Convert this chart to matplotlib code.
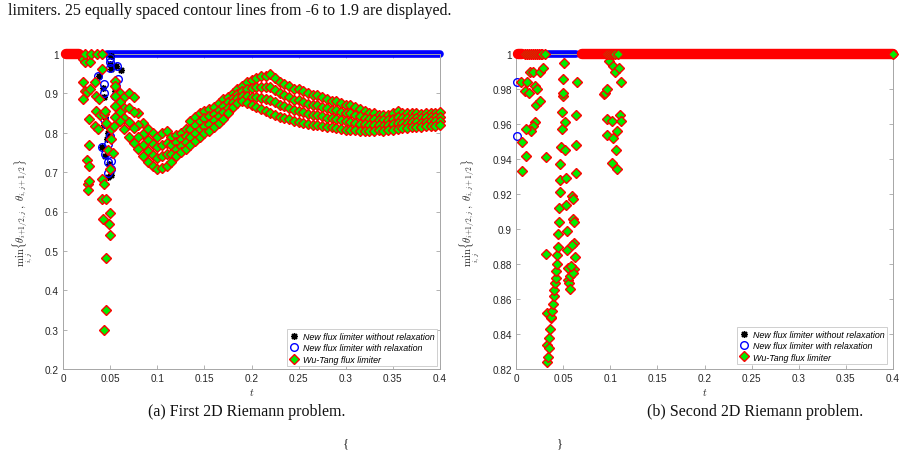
import matplotlib
matplotlib.use("Agg")
import matplotlib.pyplot as plt

plt.rcParams['mathtext.fontset'] = 'cm'
plt.rcParams['font.family'] = ['Liberation Sans', 'DejaVu Sans']

AT_ONE = 1.0

# ---------------- Panel (a): first 2D Riemann problem ----------------
a_wt_t = [0.021, 0.023, 0.029, 0.021, 0.023, 0.021, 0.025, 0.029, 0.035, 0.038,
          0.034, 0.028, 0.035, 0.034, 0.037, 0.039, 0.043, 0.045, 0.028, 0.025,
          0.028, 0.027, 0.027, 0.028, 0.041, 0.043, 0.041, 0.046, 0.042, 0.050,
          0.049, 0.050, 0.046, 0.046, 0.043, 0.041, 0.055, 0.046, 0.051, 0.048,
          0.053, 0.050, 0.051, 0.054]
a_wt_v = [0.987, 0.979, 0.979, 0.928, 0.907, 0.886, 0.903, 0.911, 0.894, 0.886,
          0.928, 0.834, 0.856, 0.818, 0.810, 0.844, 0.848, 0.856, 0.768, 0.732,
          0.715, 0.671, 0.655, 0.677, 0.683, 0.671, 0.633, 0.633, 0.582, 0.597,
          0.569, 0.541, 0.482, 0.350, 0.299, 0.962, 0.932, 0.826, 0.810, 0.755,
          0.749, 0.709, 0.785, 0.818]
a_band_t = [0.055, 0.060, 0.065, 0.070, 0.075, 0.080, 0.085, 0.090, 0.095, 0.100,
            0.105, 0.110, 0.115, 0.120, 0.125, 0.130, 0.135, 0.140, 0.145, 0.150,
            0.155, 0.160, 0.165, 0.170, 0.175, 0.180, 0.185, 0.190, 0.195, 0.200,
            0.205, 0.210, 0.215, 0.220, 0.225, 0.230, 0.235, 0.240, 0.245, 0.250,
            0.255, 0.260, 0.265, 0.270, 0.275, 0.280, 0.285, 0.290, 0.295, 0.300,
            0.305, 0.310, 0.315, 0.320, 0.325, 0.330, 0.335, 0.340, 0.345, 0.350,
            0.355, 0.360, 0.365, 0.370, 0.375, 0.380, 0.385, 0.390, 0.395, 0.400]
a_band_upper = [0.920, 0.900, 0.890, 0.900, 0.890, 0.850, 0.825, 0.810, 0.800, 0.790,
                0.800, 0.805, 0.790, 0.795, 0.800, 0.810, 0.830, 0.840, 0.850, 0.855,
                0.860, 0.865, 0.875, 0.885, 0.890, 0.900, 0.910, 0.920, 0.930, 0.935,
                0.940, 0.945, 0.945, 0.950, 0.940, 0.930, 0.925, 0.920, 0.910, 0.910,
                0.905, 0.900, 0.895, 0.895, 0.890, 0.885, 0.880, 0.880, 0.875, 0.870,
                0.870, 0.865, 0.860, 0.855, 0.850, 0.850, 0.845, 0.845, 0.845, 0.850,
                0.855, 0.850, 0.850, 0.850, 0.850, 0.848, 0.850, 0.850, 0.850, 0.852]
a_band_upper_mid = [0.893, 0.877, 0.863, 0.863, 0.852, 0.820, 0.797, 0.782, 0.772, 0.763,
                    0.770, 0.775, 0.768, 0.777, 0.783, 0.793, 0.810, 0.820, 0.830, 0.837,
                    0.842, 0.848, 0.858, 0.868, 0.877, 0.888, 0.898, 0.907, 0.912, 0.913,
                    0.915, 0.917, 0.915, 0.917, 0.908, 0.900, 0.896, 0.892, 0.883, 0.883,
                    0.878, 0.874, 0.870, 0.870, 0.866, 0.862, 0.858, 0.857, 0.853, 0.849,
                    0.849, 0.845, 0.842, 0.838, 0.835, 0.835, 0.832, 0.832, 0.832, 0.836,
                    0.840, 0.837, 0.837, 0.838, 0.838, 0.837, 0.839, 0.839, 0.839, 0.841]
a_band_lower_mid = [0.867, 0.853, 0.837, 0.827, 0.813, 0.790, 0.768, 0.753, 0.743, 0.735,
                    0.740, 0.745, 0.747, 0.758, 0.767, 0.777, 0.790, 0.800, 0.810, 0.818,
                    0.823, 0.832, 0.842, 0.852, 0.863, 0.877, 0.887, 0.893, 0.893, 0.892,
                    0.890, 0.888, 0.885, 0.883, 0.877, 0.870, 0.867, 0.863, 0.857, 0.855,
                    0.852, 0.848, 0.845, 0.845, 0.842, 0.838, 0.837, 0.835, 0.832, 0.829,
                    0.827, 0.826, 0.823, 0.822, 0.819, 0.820, 0.819, 0.818, 0.819, 0.822,
                    0.825, 0.825, 0.825, 0.827, 0.827, 0.826, 0.827, 0.829, 0.829, 0.831]
a_band_lower = [0.840, 0.830, 0.810, 0.790, 0.775, 0.760, 0.740, 0.725, 0.715, 0.708,
                0.710, 0.715, 0.725, 0.740, 0.750, 0.760, 0.770, 0.780, 0.790, 0.800,
                0.805, 0.815, 0.825, 0.835, 0.850, 0.865, 0.875, 0.880, 0.875, 0.870,
                0.865, 0.860, 0.855, 0.850, 0.845, 0.840, 0.838, 0.835, 0.830, 0.828,
                0.825, 0.822, 0.820, 0.820, 0.818, 0.815, 0.815, 0.812, 0.810, 0.808,
                0.806, 0.806, 0.805, 0.805, 0.804, 0.805, 0.806, 0.805, 0.806, 0.808,
                0.810, 0.812, 0.812, 0.815, 0.815, 0.815, 0.816, 0.818, 0.818, 0.820]
a_wt_one_t = [0.023, 0.030, 0.036, 0.041]
a_wt_one_spans = [(0.003, 0.017)]
a_nr_t = [0.038, 0.042, 0.043, 0.050, 0.051, 0.056, 0.062, 0.055, 0.041, 0.045,
          0.050, 0.047, 0.045, 0.049, 0.048, 0.051, 0.051, 0.044, 0.048]
a_nr_v = [0.945, 0.913, 0.890, 0.975, 0.962, 0.970, 0.960, 0.907, 0.763, 0.839,
          0.789, 0.785, 0.742, 0.721, 0.687, 0.692, 0.996, 0.820, 0.800]
a_wr_t = [0.037, 0.043, 0.044, 0.050, 0.050, 0.057, 0.056, 0.058, 0.043, 0.046,
          0.050, 0.048, 0.041, 0.045, 0.048, 0.051, 0.048, 0.051, 0.055, 0.050]
a_wr_v = [0.945, 0.924, 0.901, 0.979, 0.964, 0.970, 0.920, 0.937, 0.835, 0.823,
          0.793, 0.772, 0.763, 0.747, 0.725, 0.728, 0.699, 0.709, 0.894, 0.989]
a_wr_one_spans = [(0.047, 0.4)]

# ---------------- Panel (b): second 2D Riemann problem ----------------
b_wt_t = [0.005, 0.012, 0.010, 0.014, 0.015, 0.018, 0.020, 0.022, 0.025, 0.029,
          0.021, 0.025, 0.020, 0.018, 0.016, 0.011, 0.006, 0.011, 0.006, 0.032,
          0.032, 0.033, 0.033, 0.033, 0.034, 0.035, 0.035, 0.036, 0.037, 0.0375,
          0.038, 0.039, 0.040, 0.040, 0.041, 0.042, 0.042, 0.043, 0.044, 0.045,
          0.045, 0.046, 0.046, 0.047, 0.047, 0.047, 0.048, 0.049, 0.049, 0.050,
          0.050, 0.050, 0.051, 0.052, 0.052, 0.053, 0.053, 0.054, 0.054, 0.055,
          0.055, 0.056, 0.057, 0.057, 0.059, 0.060, 0.061, 0.062, 0.062, 0.063,
          0.062, 0.061, 0.059, 0.058, 0.064, 0.064, 0.064, 0.065,
          0.093, 0.094, 0.097, 0.099, 0.103, 0.105, 0.109, 0.111, 0.097, 0.102,
          0.110, 0.111, 0.107, 0.097, 0.103, 0.106, 0.102, 0.107]
b_wt_v = [0.984, 0.984, 0.979, 0.978, 0.990, 0.990, 0.982, 0.980, 0.990, 0.992,
          0.971, 0.973, 0.961, 0.959, 0.956, 0.957, 0.950, 0.942, 0.933, 0.941,
          0.886, 0.852, 0.834, 0.824, 0.827, 0.832, 0.838, 0.843, 0.849, 0.850,
          0.853, 0.857, 0.862, 0.865, 0.869, 0.872, 0.876, 0.880, 0.885, 0.890,
          0.897, 0.904, 0.912, 0.921, 0.928, 0.937, 0.947, 0.957, 0.967, 0.976,
          0.978, 0.986, 0.995, 0.945, 0.961, 0.929, 0.914, 0.899, 0.888, 0.878,
          0.871, 0.869, 0.866, 0.873, 0.919, 0.906, 0.917, 0.904, 0.892, 0.884,
          0.877, 0.875, 0.891, 0.879, 0.932, 0.948, 0.965, 0.984,
          0.977, 0.978, 0.980, 0.996, 0.993, 0.990, 0.992, 0.984, 0.963, 0.962,
          0.965, 0.962, 0.956, 0.954, 0.952, 0.945, 0.938, 0.934]
b_wt_one_t = [0.010, 0.012, 0.014, 0.016, 0.018, 0.020, 0.022, 0.024, 0.026, 0.028,
              0.031, 0.097, 0.099, 0.101, 0.103, 0.105, 0.108, 0.400]
b_wt_one_spans = [(0.002, 0.006), (0.070, 0.4)]
b_nr_t = []
b_nr_v = []
b_wr_t = [0.001, 0.001]
b_wr_v = [0.984, 0.953]
b_wr_one_spans = [(0.034, 0.064)]

x_ticks = [0, 0.05, 0.1, 0.15, 0.2, 0.25, 0.3, 0.35, 0.4]
x_ticklabels = ['0', '0.05', '0.1', '0.15', '0.2', '0.25', '0.3', '0.35', '0.4']
a_y_ticks = [0.2, 0.3, 0.4, 0.5, 0.6, 0.7, 0.8, 0.9, 1.0]
a_y_ticklabels = ['0.2', '0.3', '0.4', '0.5', '0.6', '0.7', '0.8', '0.9', '1']
b_y_ticks = [0.82, 0.84, 0.86, 0.88, 0.9, 0.92, 0.94, 0.96, 0.98, 1.0]
b_y_ticklabels = ['0.82', '0.84', '0.86', '0.88', '0.9', '0.92', '0.94', '0.96', '0.98', '1']

legend_labels = ['New flux limiter without relaxation',
                 'New flux limiter with relaxation',
                 'Wu-Tang flux limiter']
ylabel = r'$\min_{i,j}\{\theta_{i+1/2,j},\ \theta_{i,j+1/2}\}$'
captions = ['(a) First 2D Riemann problem.', '(b) Second 2D Riemann problem.']
top_text = 'limiters. 25 equally spaced contour lines from -6 to 1.9 are displayed.'

GREEN = '#00ee00'
RED = '#ff0000'
BLUE = '#0000ff'
SPINE = '#a6a6a6'

WT_STYLE = dict(ls='none', marker='D', ms=5.3, mfc=GREEN, mec=RED, mew=1.0, clip_on=False)
WR_STYLE = dict(ls='none', marker='o', ms=5.5, mfc='none', mec=BLUE, mew=1.0, clip_on=False)
NR_STYLE = dict(ls='none', marker=(8, 2, 0), ms=5.0, color='black', mew=1.0, clip_on=False)

fig = plt.figure(figsize=(9.05, 4.52), dpi=100)
axa = fig.add_axes([63 / 905, 82 / 452, 377 / 905, 315 / 452])
axb = fig.add_axes([516 / 905, 82 / 452, 377 / 905, 315 / 452])


def draw_panel(ax, nr_t, nr_v, wr_t, wr_v, wr_spans, wt_t, wt_v, wt_one_t, wt_spans,
               band, yticks, yticklabels, ylim, ylab_x, leg_anchor):
    for s in wr_spans:
        ax.plot(list(s), [AT_ONE, AT_ONE], color=BLUE, lw=5.5,
                solid_capstyle='round', clip_on=False, zorder=2)
    h_nr, = ax.plot(nr_t, nr_v, **NR_STYLE, zorder=3)
    h_wr, = ax.plot(wr_t, wr_v, **WR_STYLE, zorder=3)
    for s in wt_spans:
        ax.plot(list(s), [AT_ONE, AT_ONE], color=RED, lw=7.5,
                solid_capstyle='round', clip_on=False, zorder=4)
    h_wt, = ax.plot(wt_t, wt_v, **WT_STYLE, zorder=4)
    if band is not None:
        bt = band[0]
        for row in band[1:]:
            ax.plot(bt, row, **WT_STYLE, zorder=4)
    ax.plot(wt_one_t, [AT_ONE] * len(wt_one_t), **WT_STYLE, zorder=5)

    ax.set_xlim(0, 0.4)
    ax.set_ylim(*ylim)
    ax.set_xticks(x_ticks)
    ax.set_xticklabels(x_ticklabels)
    ax.set_yticks(yticks)
    ax.set_yticklabels(yticklabels)
    ax.tick_params(direction='in', length=3, width=0.6, color=SPINE,
                   labelsize=7.2, labelcolor='#262626', top=True, right=True, pad=3)
    for sp in ax.spines.values():
        sp.set_color(SPINE)
        sp.set_linewidth(0.7)
    ax.set_xlabel('$t$', fontsize=7.5, color='#262626')
    ax.xaxis.set_label_coords(0.5, -0.055)
    ax.set_ylabel(ylabel, fontsize=7.8, color='#262626')
    ax.yaxis.set_label_coords(ylab_x, 0.5)
    leg = ax.legend([h_nr, h_wr, h_wt], legend_labels, loc='lower right',
                    bbox_to_anchor=leg_anchor, borderaxespad=0,
                    prop={'style': 'italic', 'size': 6.4, 'family': 'Liberation Sans'},
                    frameon=True, fancybox=False, framealpha=1, edgecolor='#c8c8c8',
                    handlelength=1.0, handletextpad=0.5, labelspacing=0.28,
                    borderpad=0.3, numpoints=1)
    leg.get_frame().set_linewidth(0.6)
    leg.set_zorder(10)


draw_panel(axa, a_nr_t, a_nr_v, a_wr_t, a_wr_v, a_wr_one_spans, a_wt_t, a_wt_v,
           a_wt_one_t, a_wt_one_spans,
           (a_band_t, a_band_upper, a_band_upper_mid, a_band_lower_mid, a_band_lower),
           a_y_ticks, a_y_ticklabels, (0.2, 1.0), -0.075, (0.993, 0.008))
draw_panel(axb, b_nr_t, b_nr_v, b_wr_t, b_wr_v, b_wr_one_spans, b_wt_t, b_wt_v,
           b_wt_one_t, b_wt_one_spans, None,
           b_y_ticks, b_y_ticklabels, (0.82, 1.0), -0.09, (0.985, 0.015))

serif = ['Liberation Serif', 'DejaVu Serif']
fig.text(8 / 905, 1 - 11 / 452, top_text, family=serif, fontsize=11.5,
         ha='left', va='center', color='#111111')
fig.text(247 / 905, 1 - 412 / 452, captions[0], family=serif, fontsize=11.5,
         ha='center', va='center', color='#111111')
fig.text(755 / 905, 1 - 412 / 452, captions[1], family=serif, fontsize=11.5,
         ha='center', va='center', color='#111111')
fig.text(346 / 905, 1 - 450 / 452, '{', family=serif, fontsize=9,
         ha='center', va='bottom', color='#111111')
fig.text(560 / 905, 1 - 450 / 452, '}', family=serif, fontsize=9,
         ha='center', va='bottom', color='#111111')

fig.savefig('out.png', dpi=100)
